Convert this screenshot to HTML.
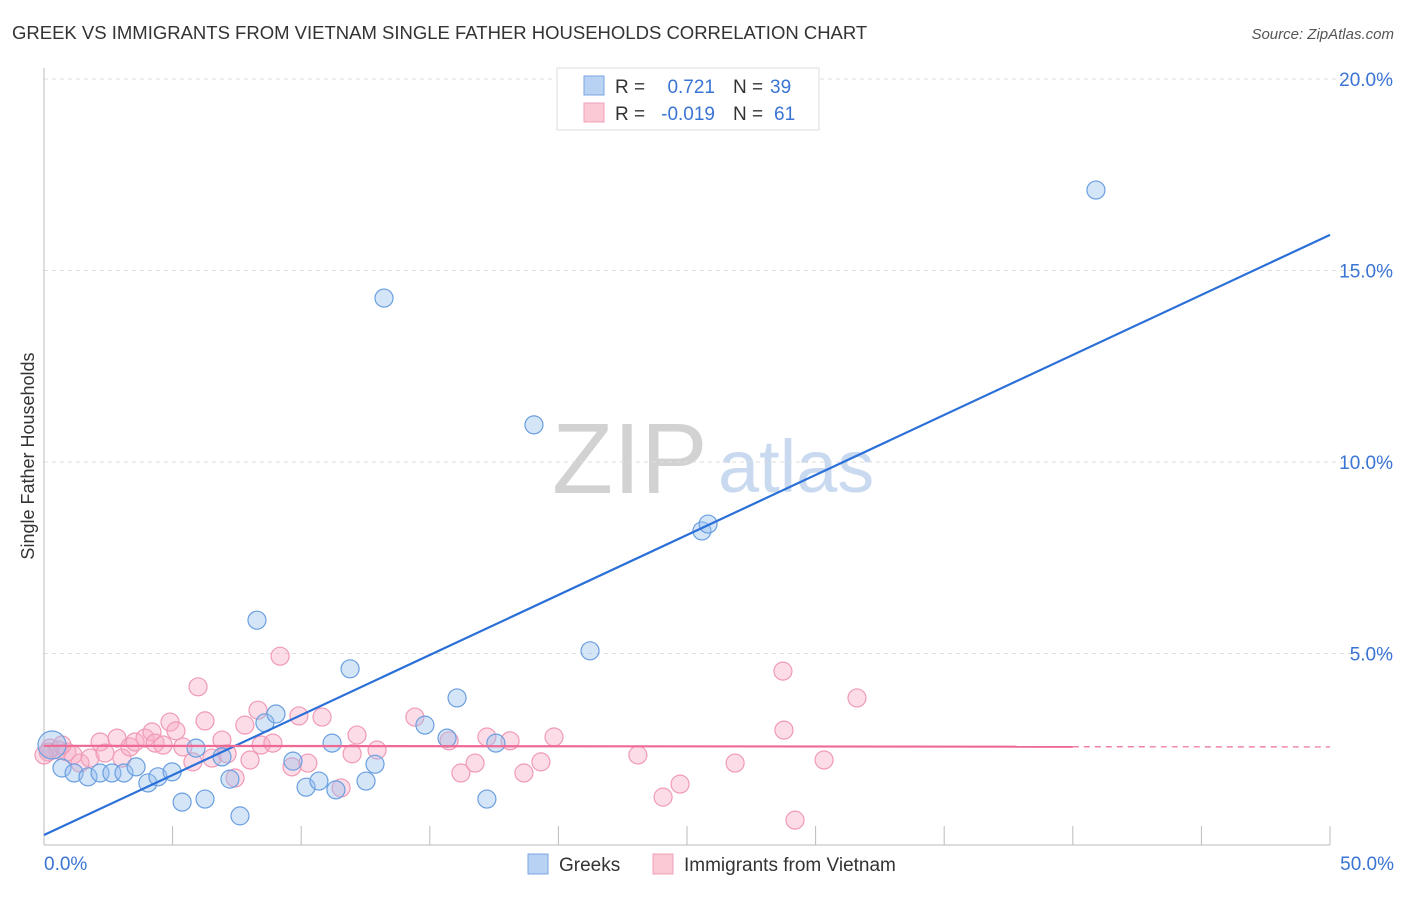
<!DOCTYPE html>
<html><head><meta charset="utf-8"><style>
body{margin:0;background:#fff;font-family:"Liberation Sans",sans-serif}
svg text{font-family:"Liberation Sans",sans-serif}
</style></head><body>
<svg id="chart" width="1406" height="892" xmlns="http://www.w3.org/2000/svg">
<text x="12" y="39" font-size="18.5" fill="#333">GREEK VS IMMIGRANTS FROM VIETNAM SINGLE FATHER HOUSEHOLDS CORRELATION CHART</text>
<text x="1394" y="39" font-size="15" fill="#555" font-style="italic" text-anchor="end">Source: ZipAtlas.com</text>
<text x="0" y="0" transform="translate(34,456) rotate(-90)" font-size="18" fill="#333" text-anchor="middle">Single Father Households</text>
<g>
<text x="552" y="493" font-size="100" font-family="Liberation Serif,serif" fill="#d2d2d2">ZIP</text>
<text x="718" y="492" font-size="74" fill="#c9daf0">atlas</text>
</g>
<g id="grid"></g>
<g id="axes"></g>
<g id="marks"></g>
<g>
<rect x="557" y="68" width="262" height="62" fill="#fff" stroke="#ddd"/>
<rect x="584" y="76" width="20" height="19" fill="#b8d2f4" stroke="#7aa6e0"/>
<rect x="584" y="103" width="20" height="19" fill="#fbc8d6" stroke="#f0a0b8"/>
<text x="615" y="93" font-size="19" fill="#333">R =</text>
<text x="715" y="93" font-size="19" fill="#3a74d4" text-anchor="end">0.721</text>
<text x="733" y="93" font-size="19" fill="#333">N =</text>
<text x="770" y="93" font-size="19" fill="#3a74d4">39</text>
<text x="615" y="120" font-size="19" fill="#333">R =</text>
<text x="715" y="120" font-size="19" fill="#3a74d4" text-anchor="end">-0.019</text>
<text x="733" y="120" font-size="19" fill="#333">N =</text>
<text x="774" y="120" font-size="19" fill="#3a74d4">61</text>
</g>
<g>
<rect x="528" y="854" width="20" height="20" fill="#b8d2f4" stroke="#7aa6e0"/>
<text x="559" y="871" font-size="19" fill="#333">Greeks</text>
<rect x="653" y="854" width="20" height="20" fill="#fbc8d6" stroke="#f0a0b8"/>
<text x="684" y="871" font-size="19" fill="#333">Immigrants from Vietnam</text>
</g>
</svg>
<script>
const yTicks=[5,10,15,20];
const yTickLabels=["5.0%","10.0%","15.0%","20.0%"];
const xTickVals=[5,10,15,20,25,30,35,40,45,50];
const greekX=[0.31,0.70,1.17,1.71,2.18,2.64,3.11,3.58,4.04,4.43,4.98,5.37,5.91,6.26,6.92,7.23,7.62,8.28,8.59,9.02,9.68,10.19,10.69,11.2,11.35,11.9,12.52,12.87,13.22,14.81,15.67,16.06,17.22,17.57,19.05,21.23,25.58,25.82,40.9];
const greekY=[2.61,2.01,1.88,1.78,1.88,1.88,1.88,2.04,1.62,1.78,1.91,1.12,2.53,1.2,2.3,1.72,0.76,5.87,3.19,3.42,2.19,1.51,1.67,2.66,1.44,4.6,1.67,2.11,14.28,3.13,2.79,3.84,1.2,2.66,10.97,5.07,8.2,8.38,17.1];
const vietX=[0.23,0.54,0.89,1.13,1.40,1.79,2.18,2.37,2.84,3.03,3.34,3.54,3.93,4.20,4.32,4.63,4.90,5.13,5.40,5.79,5.99,6.26,6.53,6.92,7.12,7.43,7.81,8.01,8.32,8.44,8.90,9.18,9.64,9.91,10.26,10.81,11.55,11.98,12.17,12.95,14.42,15.75,16.21,16.76,17.22,18.12,18.66,19.32,19.83,23.09,24.07,24.73,26.87,28.73,28.77,29.20,30.33,31.61,0.16,0.0,0.70];
const vietY=[2.53,2.48,2.43,2.35,2.14,2.27,2.69,2.40,2.79,2.27,2.56,2.69,2.79,2.95,2.66,2.61,3.21,2.98,2.56,2.17,4.13,3.24,2.27,2.74,2.38,1.75,3.13,2.22,3.52,2.61,2.66,4.93,2.04,3.37,2.14,3.34,1.49,2.38,2.87,2.48,3.34,2.72,1.88,2.14,2.82,2.72,1.88,2.17,2.82,2.35,1.25,1.59,2.14,4.54,3.00,0.65,2.22,3.84,2.43,2.35,2.61];
const greekTrend=[0.26,15.93];
const vietTrend=[2.59,2.56];
const NS="http://www.w3.org/2000/svg";
const sx=v=>44+v*25.72, sy=v=>845-v*38.3;
function mk(tag,attrs,parent){const e=document.createElementNS(NS,tag);for(const k in attrs)e.setAttribute(k,attrs[k]);document.getElementById(parent).appendChild(e);return e;}
yTicks.forEach((t,i)=>{
 const g=mk('line',{x1:44,x2:1394,y1:sy(t),y2:sy(t),stroke:'#ddd','stroke-dasharray':'4,4'},'grid');
 
 
 const l=mk('text',{x:1393,y:sy(t)+7,'font-size':19,fill:'#3a74d4','text-anchor':'end'},'grid');
 l.textContent=yTickLabels[i];
 
 
});
const ya=mk('line',{x1:44,x2:44,y1:68,y2:845,stroke:'#bbb'},'axes');


const xa=mk('line',{x1:44,x2:1330,y1:845,y2:845,stroke:'#bbb'},'axes');


xTickVals.forEach(t=>{
 const k=mk('line',{x1:sx(t),x2:sx(t),y1:826,y2:845,stroke:'#bbb'},'axes');
 
 
});
const x0=mk('text',{x:44,y:870,'font-size':19,fill:'#3a74d4'},'axes');x0.textContent='0.0%';


const x1=mk('text',{x:1394,y:870,'font-size':19,fill:'#3a74d4','text-anchor':'end'},'axes');x1.textContent='50.0%';


vietX.forEach((x,i)=>{
 const c=mk('circle',{cx:sx(x),cy:sy(vietY[i]),r:9,fill:'rgba(248,170,195,0.4)',stroke:'#f09ab6','stroke-width':1.2},'marks');
 
 
});
greekX.forEach((x,i)=>{
 const c=mk('circle',{cx:sx(x),cy:sy(greekY[i]),r:i===0?14:9,fill:'rgba(150,190,238,0.4)',stroke:'#6a9fe0','stroke-width':1.2},'marks');
 
 
});
const gt=mk('line',{x1:sx(0),y1:sy(greekTrend[0]),x2:sx(50),y2:sy(greekTrend[1]),stroke:'#2a70d8','stroke-width':2.2},'marks');


const vm=vietTrend[0]+(vietTrend[1]-vietTrend[0])*0.8;
const vt=mk('line',{x1:sx(0),y1:sy(vietTrend[0]),x2:sx(40),y2:sy(vm),stroke:'#ee6a94','stroke-width':2.2},'marks');


const vd=mk('line',{x1:sx(40),y1:sy(vm),x2:sx(50),y2:sy(vietTrend[1]),stroke:'#ee6a94','stroke-width':1.2,'stroke-dasharray':'6,5'},'marks');


</script>
</body></html>
